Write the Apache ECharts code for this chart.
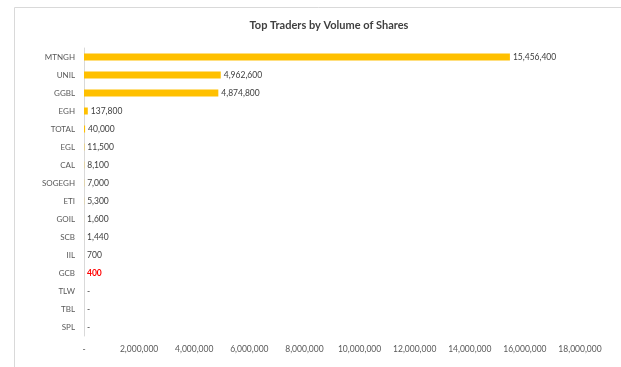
<!DOCTYPE html>
<html>
<head>
<meta charset="utf-8">
<script src="https://cdn.jsdelivr.net/npm/echarts@6/dist/echarts.min.js"></script>
<style>html,body{margin:0;padding:0;background:#fff}#c{width:621px;height:367px}</style>
</head>
<body>
<div id="c"></div>
<script>
var categories = ["MTNGH","UNIL","GGBL","EGH","TOTAL","EGL","CAL","SOGEGH","ETI","GOIL","SCB","IIL","GCB","TLW","TBL","SPL"];
var volumes = [15456400, 4962600, 4874800, 137800, 40000, 11500, 8100, 7000, 5300, 1600, 1440, 700, 400, 0, 0, 0];
var highlighted = ["GCB"];
var xTicks = { min: 0, max: 18000000, interval: 2000000 };
var titleText = "Top Traders by Volume of Shares";

function fmt(v){ return v === 0 ? "-" : v.toLocaleString("en-US"); }
var FONT = "Lato, 'Open Sans', sans-serif";
var chart = echarts.init(document.getElementById('c'));
chart.setOption({
  animation: false,
  graphic: [{type:'rect', shape:{x:14.5,y:7.5,width:640,height:400}, style:{fill:'none', stroke:'#d9d9d9', lineWidth:1}, silent:true}],
  title: { text: titleText, left: 324, top: 15, textAlign: 'center',
    textStyle: { fontFamily: FONT, fontSize: 11, fontWeight: 'bold', color: '#404040' } },
  grid: { left: 84, right: 41, top: 48, bottom: 31, containLabel: false },
  xAxis: { type: 'value', min: xTicks.min, max: xTicks.max, interval: xTicks.interval,
    axisLine: { show: false }, axisTick: { show: false }, splitLine: { show: false },
    axisLabel: { formatter: fmt, color: '#595959', fontSize: 8.5, fontFamily: FONT, margin: 9 } },
  yAxis: { type: 'category', data: categories, inverse: true,
    axisLine: { show: true, lineStyle: { color: '#d9d9d9' } }, axisTick: { show: false },
    axisLabel: { color: '#595959', fontSize: 8, fontFamily: FONT, margin: 9 } },
  series: [{
    type: 'bar', barWidth: 7,
    data: volumes.map(function(v, i){
      var hl = highlighted.indexOf(categories[i]) >= 0;
      return { value: v, label: hl ? { color: '#ff0000', fontWeight: 'bold' } : {} };
    }),
    itemStyle: { color: '#FFC000' },
    label: { show: true, position: 'right', distance: 3, formatter: function(p){ return fmt(p.value); },
      color: '#404040', fontSize: 8.5, fontFamily: FONT }
  }]
});
</script>
</body>
</html>
